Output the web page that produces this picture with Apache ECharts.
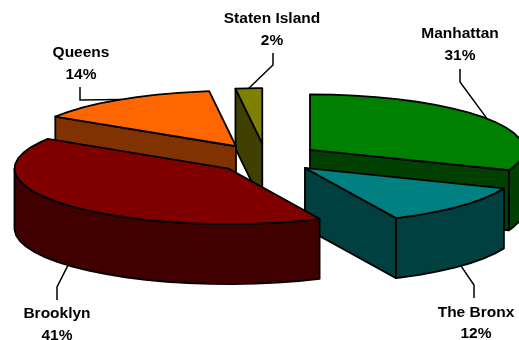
<!DOCTYPE html>
<html>
<head>
<meta charset="utf-8">
<style>html,body{margin:0;padding:0;background:#fff}#c{width:519px;height:340px}</style>
<script src="https://cdn.jsdelivr.net/npm/echarts@6/dist/echarts.min.js"></script>
</head>
<body>
<div id="c"></div>
<script>
const categories = ['Manhattan', 'The Bronx', 'Brooklyn', 'Queens', 'Staten Island'];
const percents = [31, 12, 41, 14, 2];

const topColors = ['#008000', '#008080', '#800000', '#FF6600', '#808000'];
const sideColors = ['#004000', '#004040', '#400000', '#803300', '#404000'];
const paintOrder = [4, 3, 0, 1, 2];
const labelCenters = [[460, 44.5], [476, 323], [57, 324.5], [81, 63.5], [272, 29.5]];
const leaderElbows = [[[460, 69], [460, 82]], [[474, 298], [474, 285]], [[57, 300], [57, 287]], [[80, 87], [80, 100]], [[273, 53], [273, 65]]];
const sliceNudges = [[0, -0.7], [0, 0.8], [-0.5, 1.8], [-4, -0.5], [-2, -1]];

const pie = { cx: 267.5, cy: 158, rx: 214, ry: 55.5, depth: 60, explode: 0.24, step: 6 };
const total = percents.reduce((a, b) => a + b, 0);
const rad = d => d * Math.PI / 180;

function sliceAngles(i) {
  const before = percents.slice(0, i).reduce((a, b) => a + b, 0);
  return [before / total * 360, (before + percents[i]) / total * 360];
}
function apexOf(i) {
  const [a, b] = sliceAngles(i);
  const m = rad((a + b) / 2);
  return [pie.cx + pie.explode * pie.rx * Math.sin(m) + sliceNudges[i][0],
          pie.cy - pie.explode * pie.ry * Math.cos(m) + sliceNudges[i][1]];
}
function rimPoint(apex, deg, dy) {
  return [apex[0] + pie.rx * Math.sin(rad(deg)), apex[1] - pie.ry * Math.cos(rad(deg)) + (dy || 0)];
}
function arc(apex, a, b, dy) {
  const pts = [];
  for (let d = a; d < b; d += pie.step) pts.push(rimPoint(apex, d, dy));
  pts.push(rimPoint(apex, b, dy));
  return pts;
}
const lineStyle = { stroke: '#000', lineWidth: 1.8, lineJoin: 'round' };
function poly(points, fill) {
  return { type: 'polygon', silent: true, shape: { points }, style: Object.assign({ fill }, lineStyle) };
}
function renderSlice(params, api) {
  const i = api.value(0);
  const [a, b] = sliceAngles(i);
  const apex = apexOf(i);
  const d = pie.depth;
  const low = p => [p[0], p[1] + d];
  const side = sideColors[i];
  const children = [];
  // radial faces turned toward the viewer
  if (Math.sin(rad(a)) < -1e-6) {
    const p = rimPoint(apex, a);
    children.push(poly([apex, p, low(p), low(apex)], side));
  }
  if (Math.sin(rad(b)) > 1e-6) {
    const p = rimPoint(apex, b);
    children.push(poly([apex, p, low(p), low(apex)], side));
  }
  // outer rim: front half of the ellipse only
  const ra = Math.max(a, 90), rb = Math.min(b, 270);
  if (rb > ra) {
    const up = arc(apex, ra, rb, 0), dn = arc(apex, ra, rb, d).reverse();
    children.push(poly(up.concat(dn), side));
  }
  children.push(poly([apex].concat(arc(apex, a, b, 0)), topColors[i]));
  return { type: 'group', children };
}
function renderLabel(params, api) {
  const i = api.value(0);
  const [a, b] = sliceAngles(i);
  const m = (a + b) / 2;
  const apex = apexOf(i);
  const front = m > 90 && m < 270;
  const anchor = rimPoint(apex, m, front ? pie.depth : 0);
  const [cxl, cyl] = labelCenters[i];
  return {
    type: 'group',
    children: [
      { type: 'polyline', silent: true, shape: { points: leaderElbows[i].concat([anchor]) },
        style: { fill: 'none', stroke: '#000', lineWidth: 1.5 } },
      { type: 'text', silent: true, x: cxl, y: cyl,
        style: { text: categories[i] + '\n' + percents[i] + '%', align: 'center', verticalAlign: 'middle',
          font: 'bold 15.5px "Liberation Sans", Arial, sans-serif', lineHeight: 21.5, fill: '#000' } }
    ]
  };
}
const chart = echarts.init(document.getElementById('c'), null, { renderer: 'canvas' });
chart.setOption({
  animation: false,
  backgroundColor: '#fff',
  series: [
    { type: 'custom', coordinateSystem: 'none', renderItem: renderLabel, data: paintOrder.map(i => [i, percents[i]]), z: 1, silent: true },
    { type: 'custom', coordinateSystem: 'none', renderItem: renderSlice, data: paintOrder.map(i => [i, percents[i]]), z: 2, silent: true }
  ]
});
</script>
</body>
</html>
